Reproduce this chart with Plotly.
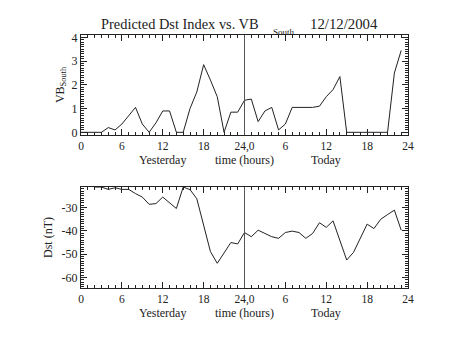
import plotly.graph_objects as go
from plotly.subplots import make_subplots

# Hourly samples spanning yesterday (0-23) and today (24-47)
hours_vb = list(range(0, 48))
vb_south = [0, 0, 0, 0, 0.2, 0.1, 0.35, 0.7, 1.05, 0.35, 0, 0.4,
            0.9, 0.9, 0, 0, 1.0, 1.7, 2.85, 2.2, 1.5, 0, 0.85, 0.85,
            1.35, 1.4, 0.45, 0.9, 1.05, 0.1, 0.35, 1.05, 1.05, 1.05, 1.05, 1.1,
            1.5, 1.8, 2.35, 0, 0, 0, 0, 0, 0, 0, 2.5, 3.45]

hours_dst = list(range(2, 48))
dst = [-21.2, -21.2, -22.2, -21.5, -22.2, -22.2, -24.0, -25.5, -28.6, -28.3,
       -25.5, -27.9, -30.4, -21.2, -22.3, -26.2, -38.2, -48.9, -53.9, -49.3,
       -45.0, -45.6, -40.7, -42.5, -39.7, -41.1, -42.5, -43.2, -40.7, -40.1,
       -40.7, -43.2, -41.1, -36.5, -38.5, -35.7, -44.0, -52.5, -49.2, -43.2,
       -37.1, -39.0, -35.0, -33.0, -31.1, -39.7]

x_tickvals = [0, 6, 12, 18, 24, 30, 36, 42, 48]
x_ticktext = ["0", "6", "12", "18", "24,0", "6", "12", "18", "24"]
vb_tickvals = [0, 1, 2, 3, 4]
dst_tickvals = [-30, -40, -50, -60]

FONT = "Liberation Serif"
INK = "#222222"
W, H = 453, 340
L, R, T, B = 81, 45, 35, 52

fig = make_subplots(rows=2, cols=1, vertical_spacing=0.0)
fig.add_trace(go.Scatter(x=hours_vb, y=vb_south, mode="lines",
                         line=dict(color=INK, width=1)), row=1, col=1)
fig.add_trace(go.Scatter(x=hours_dst, y=dst, mode="lines",
                         line=dict(color=INK, width=1)), row=2, col=1)

xaxis_style = dict(range=[0, 48], tickvals=x_tickvals, ticktext=x_ticktext,
                   ticks="inside", ticklen=6, tickcolor=INK, tickwidth=1,
                   showline=True, linecolor=INK, linewidth=1, mirror="allticks",
                   showgrid=False, zeroline=False,
                   minor=dict(dtick=1, ticks="inside", ticklen=3, tickcolor=INK),
                   tickfont=dict(family=FONT, size=11.5, color=INK))
fig.update_layout(xaxis=dict(domain=[0, 1], anchor="y", **xaxis_style),
                  xaxis2=dict(domain=[0, 1], anchor="y2", **xaxis_style))

yaxis_common = dict(ticks="inside", ticklen=6, tickcolor=INK, tickwidth=1,
                    showline=True, linecolor=INK, linewidth=1, mirror="allticks",
                    showgrid=False, zeroline=False,
                    tickfont=dict(family=FONT, size=12, color=INK))
fig.update_layout(
    yaxis=dict(domain=[0.605, 1], range=[-0.11, 4.1], tickvals=vb_tickvals,
               ticktext=[str(v) for v in vb_tickvals],
               minor=dict(dtick=0.1, ticks="inside", ticklen=3, tickcolor=INK),
               title=dict(text="VB<sub>South</sub>", font=dict(family=FONT, size=12, color=INK),
                          standoff=4),
               **yaxis_common),
    yaxis2=dict(domain=[0, 0.399], range=[-64.5, -21.2], tickvals=dst_tickvals,
                ticktext=[str(v) for v in dst_tickvals],
                minor=dict(dtick=1, ticks="inside", ticklen=3, tickcolor=INK),
                title=dict(text="Dst (nT)", font=dict(family=FONT, size=12, color=INK),
                           standoff=6),
                **yaxis_common),
)

# Midnight separator between yesterday and today
for xref, yref in [("x", "y domain"), ("x2", "y2 domain")]:
    fig.add_shape(type="line", xref=xref, yref=yref, x0=24, x1=24, y0=0, y1=1,
                  line=dict(color="#555555", width=1))

# Day / time labels under each panel
for xref, ydom in [("x", "y domain"), ("x2", "y2 domain")]:
    for xv, txt in [(12, "Yesterday"), (24, "time (hours)"), (36, "Today")]:
        fig.add_annotation(x=xv, y=0, xref=xref, yref=ydom, yshift=-25,
                           text=txt, showarrow=False, yanchor="middle",
                           font=dict(family=FONT, size=12, color=INK))


def px_to_paper(px, py):
    return (px - L) / (W - L - R), (H - B - py) / (H - T - B)


# Title built from pieces so the subscript can sit low, close to the frame
for px, py, txt, size in [(99, 24, "Predicted Dst Index vs. VB", 14.4),
                          (271, 32, "South", 9),
                          (308, 24, "12/12/2004", 14.8)]:
    xp, yp = px_to_paper(px, py)
    fig.add_annotation(x=xp, y=yp, xref="paper", yref="paper", text=txt,
                       showarrow=False, xanchor="left", yanchor="middle",
                       font=dict(family=FONT, size=size, color=INK))

fig.update_layout(
    width=W, height=H, showlegend=False,
    margin=dict(l=L, r=R, t=T, b=B),
    paper_bgcolor="white", plot_bgcolor="white",
)

fig.write_html("out.html")
